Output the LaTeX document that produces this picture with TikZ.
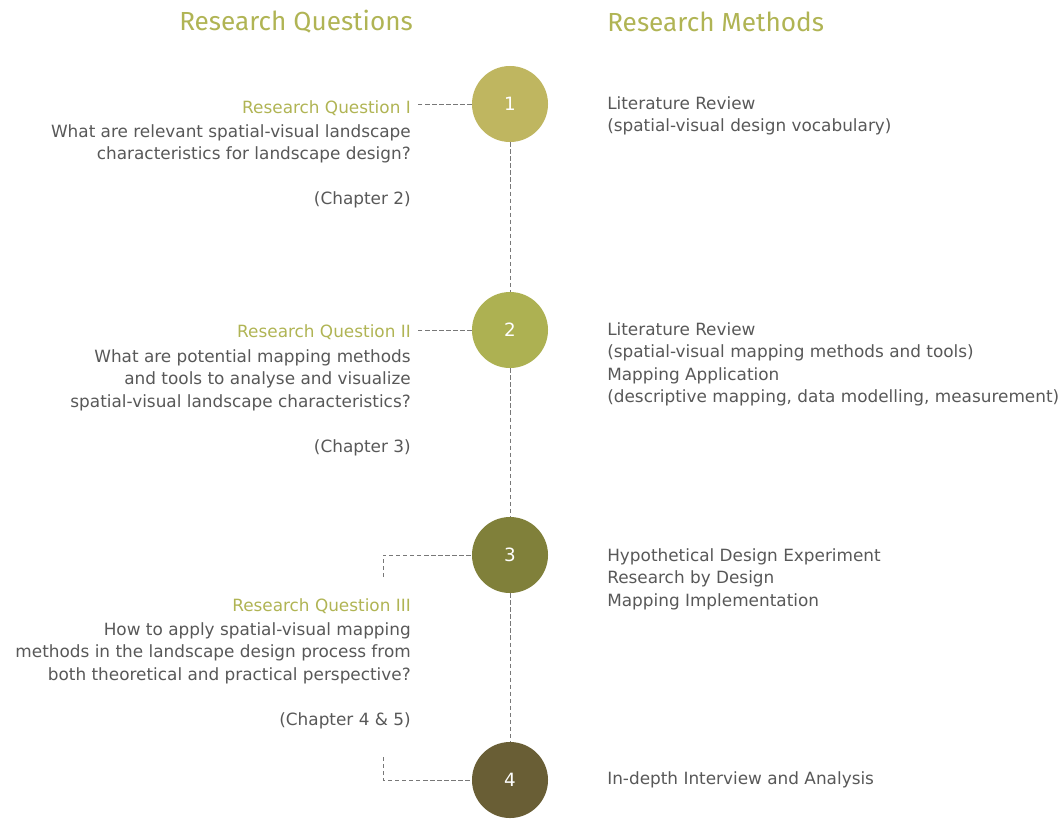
\documentclass[tikz,border=0pt]{standalone}
\usepackage{fontspec}
\setmainfont{DejaVu Sans}
\newfontfamily\headfont{Fira Sans}
\usetikzlibrary{positioning}

\definecolor{headolive}{RGB}{176,180,84}
\definecolor{textgrey}{RGB}{88,88,88}
\definecolor{dashgrey}{RGB}{120,120,120}
\definecolor{stepone}{RGB}{191,182,96}
\definecolor{steptwo}{RGB}{173,177,82}
\definecolor{stepthree}{RGB}{128,128,58}
\definecolor{stepfour}{RGB}{105,94,53}

\tikzset{
    stepcircle/.style={circle, minimum size=1.9cm, inner sep=0pt, text=white,
        font=\fontsize{13}{15}\selectfont},
    heading/.style={text=headolive, font=\headfont\fontsize{18.6}{21}\selectfont, inner sep=0pt},
    qtitle/.style={text=headolive, font=\fontsize{12}{16}\selectfont, inner sep=3.5pt},
    qtext/.style={text=textgrey, font=\fontsize{12}{16}\selectfont, inner sep=0pt},
    dashline/.style={draw=dashgrey, line width=0.6pt, dash pattern=on 3pt off 2pt}
}

\begin{document}
\begin{tikzpicture}[x=0.025cm, y=-0.025cm]
    \def \cx {510} % time line
    \def \qx {411} % right edge of the questions
    \def \mx {607} % left edge of the methods
    \useasboundingbox (0,0) rectangle (1064,818);

    \node[heading, anchor=west] (hq) at (179,22) {Research Questions};
    \node[heading, anchor=west] (hm) at (\mx,22) {Research Methods};

    % steps on the time line
    \foreach \s/\y/\c in {1/104/stepone, 2/330/steptwo, 3/555/stepthree, 4/780/stepfour}
    {
      \node[stepcircle, fill=\c] (c\s) at (\cx,\y) {\s};
    }
    \draw[dashline] (c1) -- (c2) (c2) -- (c3) (c3) -- (c4);

    % research questions
    \node[qtitle, anchor=east] (q1) at (\qx+5,108.5) {Research Question I};
    \node[qtext, anchor=north east, align=right] (q1text) at (\qx,124)
      {What are relevant spatial-visual landscape\\
       characteristics for landscape design?\\[16pt]
       (Chapter 2)};
    \node[qtitle, anchor=east] (q2) at (\qx+5,332.5) {Research Question II};
    \node[qtext, anchor=north east, align=right] (q2text) at (\qx,349)
      {What are potential mapping methods\\
       and tools to analyse and visualize\\
       spatial-visual landscape characteristics?\\[16pt]
       (Chapter 3)};
    \node[qtitle, anchor=east] (q3) at (\qx+5,606.5) {Research Question III};
    \node[qtext, anchor=north east, align=right] (q3text) at (\qx,622)
      {How to apply spatial-visual mapping\\
       methods in the landscape design process from\\
       both theoretical and practical perspective?\\[16pt]
       (Chapter 4 \& 5)};

    % research methods
    \node[qtext, anchor=north west, align=left] (m1) at (\mx,96)
      {Literature Review\\
       (spatial-visual design vocabulary)};
    \node[qtext, anchor=north west, align=left] (m2) at (\mx,322)
      {Literature Review\\
       (spatial-visual mapping methods and tools)\\
       Mapping Application\\
       (descriptive mapping, data modelling, measurement)};
    \node[qtext, anchor=north west, align=left] (m3) at (\mx,548)
      {Hypothetical Design Experiment\\
       Research by Design\\
       Mapping Implementation};
    \node[qtext, anchor=north west, align=left] (m4) at (\mx,771)
      {In-depth Interview and Analysis};

    % links from the questions to the steps
    \coordinate (q3top) at (383,577);
    \coordinate (q3end) at (383,757);
    \draw[dashline] (c1.west) -- (c1.west -| q1.east);
    \draw[dashline] (c2.west) -- (c2.west -| q2.east);
    \draw[dashline] (q3top) |- (c3);
    \draw[dashline] (q3end) |- (c4);
\end{tikzpicture}
\end{document}
